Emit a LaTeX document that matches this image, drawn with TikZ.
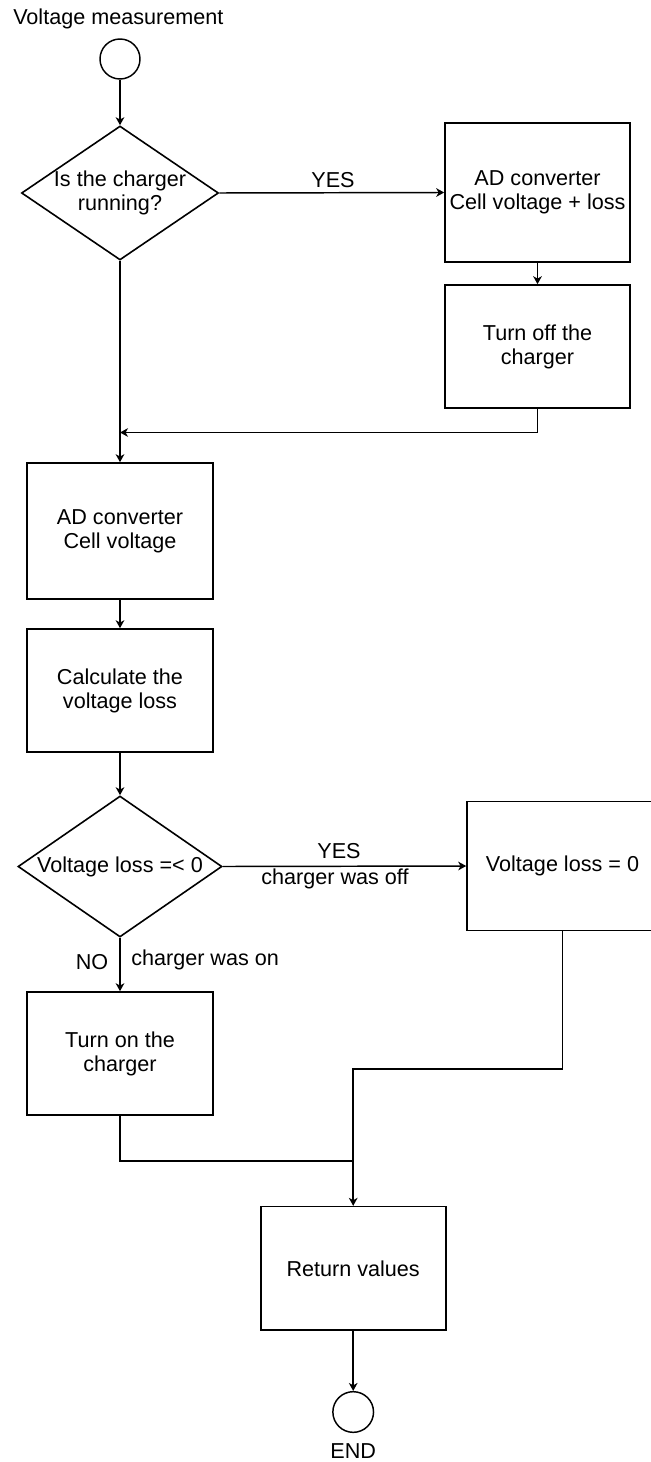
\documentclass[tikz,border=0pt]{standalone}
\usepackage{fontspec}
\setmainfont{Liberation Sans}
\usetikzlibrary{shapes.geometric,arrows.meta}
\begin{document}
\begin{tikzpicture}[x=0.75pt,y=-0.75pt,
  every node/.style={font=\fontsize{16.2}{18}\selectfont, text=black},
  procbox/.style={draw, line width=1.2pt, rectangle, inner sep=0pt, align=center},
  decbox/.style={draw, line width=1.2pt, diamond, inner sep=0pt},
  termc/.style={draw, line width=1.1pt, circle, inner sep=0pt, minimum size=30pt},
  lbl/.style={inner sep=0pt, anchor=base},
  conn/.style={line width=1.1pt, draw=black},
  arr/.style={conn, -{Stealth[length=6pt, width=6.5pt, inset=1.8pt]}}]
\useasboundingbox (0,0) rectangle (650,1462);

% title
\node[lbl, anchor=base west] (title) at (13,25) {Voltage measurement};

% start
\node[termc] (start) at (120,59) {};

% decision 1
\node[decbox, minimum width=147.75pt, minimum height=100.5pt] (d1) at (120,193) {};
\node[align=center, inner sep=0pt] (d1t) at (120,193) {Is the charger\\running?};

% right column
\node[procbox, minimum width=138.75pt, minimum height=104.25pt] (b1) at (537.5,192.5) {AD converter\\Cell voltage + loss};
\node[procbox, minimum width=138.75pt, minimum height=92.25pt] (b2) at (537.5,346.5) {Turn off the\\charger};

\coordinate (j1) at (120,432.5);

% left column
\node[procbox, minimum width=139.5pt, minimum height=102pt] (b3) at (120,531) {AD converter\\Cell voltage};
\node[procbox, minimum width=139.5pt, minimum height=92.25pt] (b4) at (120,690.5) {Calculate the\\voltage loss};

% decision 2
\node[decbox, minimum width=153pt, minimum height=105.75pt] (d2) at (120,866.5) {};
\node[inner sep=0pt] (d2t) at (120,866.5) {Voltage loss =< 0};

\node[procbox, minimum width=143.25pt, minimum height=96.75pt] (b5) at (562.5,866) {Voltage loss = 0};
\node[procbox, minimum width=139.5pt, minimum height=92.25pt] (b6) at (120,1053.5) {Turn on the\\charger};

\node[procbox, minimum width=138.75pt, minimum height=92.5pt] (b7) at (353.2,1268.3) {Return values};
\node[termc, minimum size=30.5pt] (endc) at (353.2,1412) {};
\node[lbl] (endt) at (353.2,1458) {END};

% labels
\node[lbl] (yes1) at (333,188) {YES};
\node[lbl] (yes2) at (339,858) {YES};
\node[lbl] (off) at (335,884) {charger was off};
\node[lbl] (no) at (92,969) {NO};
\node[lbl, anchor=base west] (on) at (131,965) {charger was on};

\coordinate (k1) at (353.2,1069);
\coordinate (k2) at (353.2,1161);

% connectors
\draw[arr] (start) -- (d1.north);
\draw[arr] (d1.east) -- (b1.west);
\draw[arr] (b1.south) -- (b2.north);
\draw[arr] (b2.south) |- (j1);
\draw[arr] (d1.south) -- (b3.north);
\draw[arr] (b3.south) -- (b4.north);
\draw[arr] (b4.south) -- (d2.north);
\draw[arr] (d2.east) -- (b5.west);
\draw[arr] (d2.south) -- (b6.north);
\draw[arr] (b5.south) |- (k1) -- (b7.north);
\draw[conn] (b6.south) |- (k2);
\draw[arr] (b7.south) -- (endc.north);
\end{tikzpicture}
\end{document}
